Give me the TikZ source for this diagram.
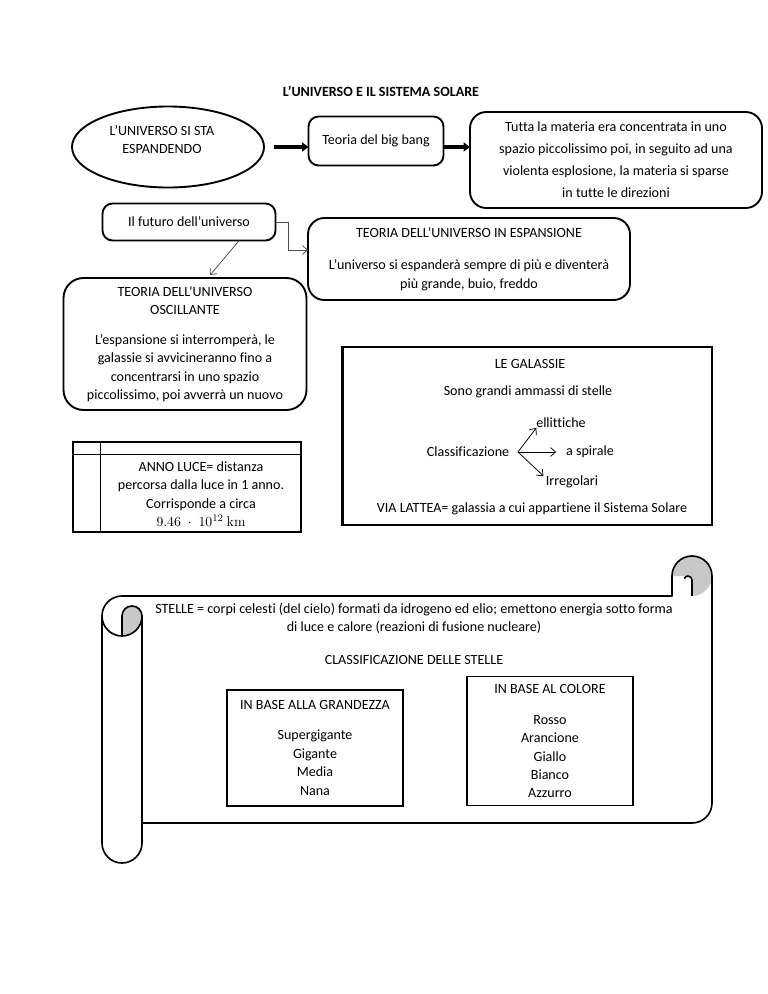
\documentclass[tikz,border=0pt]{standalone}
\usepackage{amsmath}
\usepackage{fontspec}
\setmainfont{Carlito}[Ligatures = {NoCommon, NoContextual}]
\usepackage{tikz}
\usetikzlibrary{arrows.meta, shapes.geometric, positioning}

\definecolor{curlgray}{RGB}{200,200,200}

\begin{document}
\begin{tikzpicture}[
            x = 0.7965pt, y = 0.7965pt, % one unit is one pixel of the page
            every node/.style = {font = \fontsize{11.2pt}{14.7pt}\selectfont, align = center, inner sep = 0pt, outer sep = 0pt},
            wh/.style 2 args = {minimum width = #1*0.7965pt, minimum height = #2*0.7965pt}, % box size in pixels
            semithick % line style
        ]

        \tikzstyle{roundbox}=[
            draw = black,
            line width = 1.5pt,
            fill = white,
            rounded corners = 8pt
        ]
        \tikzstyle{bigbox}=[roundbox, rounded corners = 13pt]
        \tikzstyle{squarebox}=[draw = black, line width = 1.6pt, fill = white]
        \tikzstyle{fatarrow}=[line width = 2.5pt, -{Triangle[length = 5pt, width = 7pt]}]
        \tikzstyle{thinarrow}=[draw = black!70, line width = 0.6pt, -{Straight Barb[length = 4pt, width = 7pt]}]
        \tikzstyle{scrollline}=[line width = 1.3pt, line join = round]

        \useasboundingbox (0,0) rectangle (768,-994);

        \node[font = \bfseries\fontsize{11.2pt}{14.7pt}\selectfont] (title) at (381,-91) {L’UNIVERSO E IL SISTEMA SOLARE};

        % first row
        \node[ellipse, draw, line width = 1.5pt, wh = {192}{81}] (univ) at (168,-147) {};
        \node[font = \fontsize{11.2pt}{14.3pt}\selectfont] (univtxt) at (162,-140) {L’UNIVERSO SI STA\\ESPANDENDO};
        \node[roundbox, wh = {135}{49}] (bang) at (376,-141) {Teoria del big bang};
        \node[bigbox, wh = {292}{96}, font = \fontsize{11.2pt}{17.5pt}\selectfont] (tutta) at (616,-160)
            {Tutta la materia era concentrata in uno\\spazio piccolissimo poi, in seguito ad una\\violenta esplosione, la materia si sparse\\in tutte le direzioni};

        \draw[fatarrow, shorten <= 8pt] (univ.east) -- (univ.east -| bang.west);
        \draw[fatarrow] (bang.east |- univ.east) -- (tutta.west |- univ.east);

        % future of the universe
        \node[roundbox, wh = {173}{37}] (futuro) at (189,-222) {Il futuro dell’universo};
        \node[bigbox, wh = {322}{82}] (espans) at (469,-259)
            {TEORIA DELL’UNIVERSO IN ESPANSIONE\\[11pt]L’universo si espanderà sempre di più e diventerà\\più grande, buio, freddo};
        \node[bigbox, rounded corners = 16pt, wh = {243}{132}] (oscil) at (185,-344)
            {TEORIA DELL’UNIVERSO\\OSCILLANTE\\[9pt]L’espansione si interromperà, le\\galassie si avvicineranno fino a\\concentrarsi in uno spazio\\piccolissimo, poi avverrà un nuovo};

        \coordinate (elbow) at (288,-250);
        \draw[thinarrow] (futuro.east) -| (elbow) -- (elbow -| espans.west);
        \draw[thinarrow, shorten > = 3pt] ([xshift = 40pt]futuro.south) -- ([xshift = 18pt]oscil.north);

        % galaxies
        \node[squarebox, wh = {369}{178}] (gal) at (527,-436) {};
        \node (galtit) at (530,-364) {LE GALASSIE};
        \node (galsub) at (528,-392) {Sono grandi ammassi di stelle};
        \node (cls) at (468,-452) {Classificazione};
        \node (ell) at (561,-423) {ellittiche};
        \node (spi) at (590,-452) {a spirale};
        \node (irr) at (572,-482) {Irregolari};
        \node (via) at (532,-509) {VIA LATTEA= galassia a cui appartiene il Sistema Solare};

        \coordinate (fork) at ([xshift = 7pt]cls.east);
        \draw[thinarrow, draw = black] (fork) -- (ell.south west);
        \draw[thinarrow, draw = black, shorten > = 8pt] (fork) -- (spi.west);
        \draw[thinarrow, draw = black] (fork) -- ([xshift = -2pt]irr.north west);

        % light year
        \node[squarebox, wh = {228}{90}] (anno) at (187,-487) {};
        \draw[line width = 1.3pt] ([yshift = -10pt]anno.north west) -- ([yshift = -10pt]anno.north east);
        \draw[line width = 1.3pt] ([xshift = 22pt]anno.north west) -- ([xshift = 22pt]anno.south west);
        \node (annotxt) at (201,-494) {ANNO LUCE= distanza\\percorsa dalla luce in 1 anno.\\Corrisponde a circa\\$9.46\;\cdot\;10^{12}$ {\fontfamily{lmr}\selectfont km}};

        % the scroll
        \fill[curlgray] (122,-636) -- (122,-616) arc[start angle = 180, end angle = 0, radius = 10]
            arc[start angle = 0, end angle = -90, radius = 20] -- cycle;
        \fill[curlgray] (692,-576) -- (672,-576) arc[start angle = 180, end angle = -90, radius = 20] -- cycle;
        \draw[scrollline] (122,-596) arc[start angle = 90, end angle = 180, radius = 20] -- (102,-843)
            arc[start angle = 180, end angle = 360, radius = 20] -- (142,-823) -- (692,-823)
            arc[start angle = 270, end angle = 360, radius = 20] -- (712,-576)
            arc[start angle = 0, end angle = 180, radius = 20] -- (672,-596) -- cycle;
        \draw[scrollline] (102,-616) arc[start angle = 180, end angle = 360, radius = 20] -- (142,-823);
        \draw[scrollline] (122,-636) -- (122,-616) arc[start angle = 180, end angle = 0, radius = 10];
        \draw[scrollline] (692,-596) -- (692,-580) arc[start angle = 0, end angle = 160, radius = 4];

        \node[font = \fontsize{11.2pt}{14.3pt}\selectfont] (stelle) at (414,-618)
            {STELLE = corpi celesti (del cielo) formati da idrogeno ed elio; emettono energia sotto forma\\di luce e calore (reazioni di fusione nucleare)};
        \node (clsst) at (414,-660) {CLASSIFICAZIONE DELLE STELLE};
        \node[squarebox, line width = 1.3pt, wh = {176}{116}] (grand) at (315,-748)
            {IN BASE ALLA GRANDEZZA\\[9pt]Supergigante\\Gigante\\Media\\Nana};
        \node[squarebox, line width = 1.3pt, wh = {166}{129}] (colore) at (550,-741)
            {IN BASE AL COLORE\\[10pt]Rosso\\Arancione\\Giallo\\Bianco\\Azzurro};
    \end{tikzpicture}
\end{document}
